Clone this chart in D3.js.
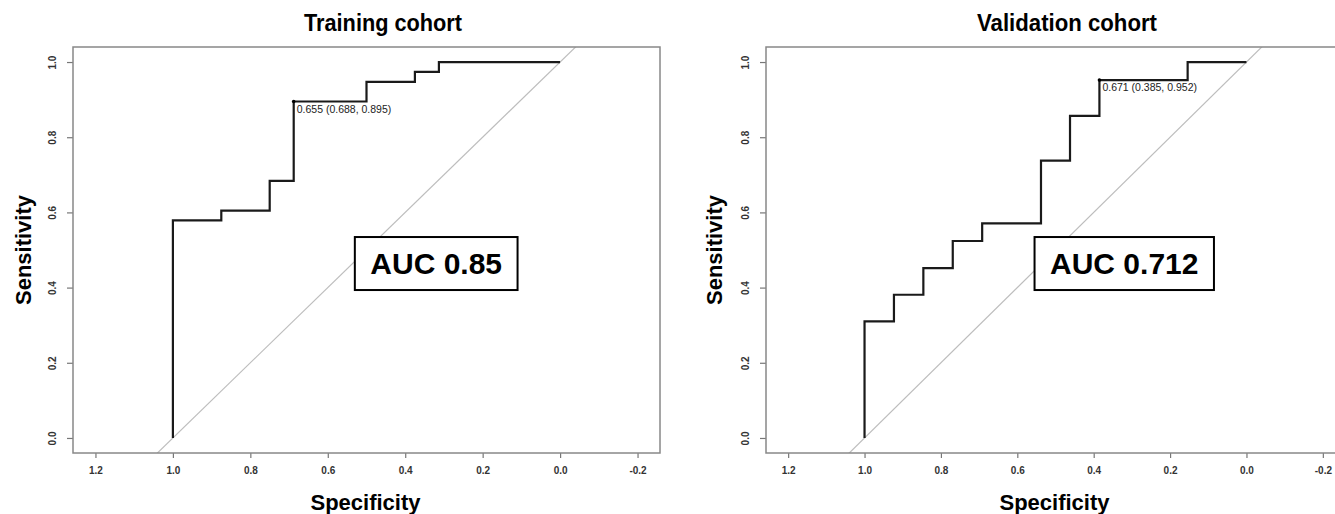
<!DOCTYPE html>
<html>
<head>
<meta charset="utf-8">
<script src="https://cdn.jsdelivr.net/npm/d3@7"></script>
<style>
  body { margin: 0; background: #fff; }
  svg { display: block; font-family: "Liberation Sans", Arial, sans-serif; }
</style>
</head>
<body>
<div id="chart"></div>
<script>
// ROC 折线的顶点 (specificity, sensitivity)，用 curveStepAfter 连成台阶
const trainSpec = [1, 1, 0.875, 0.75, 0.688, 0.5, 0.375, 0.313, 0];
const trainSens = [0, 0.579, 0.605, 0.684, 0.895, 0.947, 0.974, 1, 1];

const validSpec = [1, 1, 0.923, 0.846, 0.769, 0.692, 0.538, 0.462, 0.385, 0.154, 0];
const validSens = [0, 0.310, 0.381, 0.452, 0.524, 0.571, 0.738, 0.857, 0.952, 1, 1];

// 最佳截断点: 阈值, specificity, sensitivity
const trainBest = [0.655, 0.688, 0.895];
const validBest = [0.671, 0.385, 0.952];

const aucValues = ['0.85', '0.712'];
const titles = ['Training cohort', 'Validation cohort'];

const xTicks = [1.2, 1.0, 0.8, 0.6, 0.4, 0.2, 0.0, -0.2];
const yTicks = [0.0, 0.2, 0.4, 0.6, 0.8, 1.0];

const W = 1335, H = 514;
const plotTop = 47, plotBottom = 453;

var svg = d3.select('#chart').append('svg').attr('width', W).attr('height', H);

function fmt(d) { return d.toFixed(1); }

function drawPanel(opt) {
    var g = svg.append('g');
    var x = d3.scaleLinear().domain([1.258, -0.258]).range([opt.left, opt.right]);
    var y = d3.scaleLinear().domain([-0.04, 1.04]).range([plotBottom, plotTop]);

    var clipId = 'clip' + opt.idx;
    svg.append('clipPath').attr('id', clipId)
        .append('rect').attr('x', opt.left).attr('y', plotTop)
        .attr('width', opt.right - opt.left).attr('height', plotBottom - plotTop);

    //对角参考线
    g.append('line')
        .attr('clip-path', `url(#${clipId})`)
        .attr('x1', x(1.1)).attr('y1', y(-0.1))
        .attr('x2', x(-0.1)).attr('y2', y(1.1))
        .attr('stroke', '#bdbdbd').attr('stroke-width', 1.2);

    //x轴
    var xa = g.append('g').attr('transform', `translate(0,${plotBottom})`)
        .call(d3.axisBottom(x).tickValues(xTicks).tickFormat(fmt).tickSize(5).tickPadding(9));
    xa.select('.domain').remove();
    xa.selectAll('line').attr('stroke', '#777').attr('stroke-width', 1.2);
    xa.selectAll('text').attr('fill', '#333').style('font-size', '10px').style('font-weight', 'bold');

    //y轴，标签竖排
    var ya = g.append('g').attr('transform', `translate(${opt.left},0)`)
        .call(d3.axisLeft(y).tickValues(yTicks).tickFormat(fmt).tickSize(6));
    ya.select('.domain').remove();
    ya.selectAll('line').attr('stroke', '#777').attr('stroke-width', 1.2);
    ya.selectAll('text')
        .attr('x', null).attr('dy', null)
        .attr('transform', 'translate(-17,0) rotate(-90)')
        .attr('text-anchor', 'middle')
        .attr('fill', '#333').style('font-size', '10px').style('font-weight', 'bold');

    //外框
    g.append('rect')
        .attr('x', opt.left).attr('y', plotTop)
        .attr('width', opt.right - opt.left).attr('height', plotBottom - plotTop)
        .attr('fill', 'none').attr('stroke', '#888').attr('stroke-width', 1.5);

    //ROC曲线
    var pts = opt.spec.map((s, i) => [s, opt.sens[i]]);
    var line = d3.line().x(d => x(d[0])).y(d => y(d[1])).curve(d3.curveStepAfter);
    g.append('path').attr('d', line(pts))
        .attr('fill', 'none').attr('stroke', '#1a1a1a').attr('stroke-width', 2.2);

    //最佳截断点
    var bx = x(opt.best[1]), by = y(opt.best[2]);
    g.append('circle').attr('cx', bx).attr('cy', by).attr('r', 1.8).attr('fill', '#000');
    g.append('text').attr('x', bx + 3).attr('y', by + 11)
        .style('font-size', '10.5px').attr('fill', '#222')
        .text(`${opt.best[0].toFixed(3)} (${opt.best[1].toFixed(3)}, ${opt.best[2].toFixed(3)})`);

    //AUC 文本框
    var cx = x(0.32), cy = y(0.464);
    var box = g.append('rect');
    var t = g.append('text').attr('x', cx).attr('y', cy + 10.5)
        .attr('text-anchor', 'middle')
        .style('font-size', '30px').style('font-weight', 'bold')
        .text('AUC ' + opt.auc);
    var tw = t.node().getComputedTextLength();
    box.attr('x', cx - tw / 2 - 15.5).attr('y', cy - 26.5)
        .attr('width', tw + 31).attr('height', 53)
        .attr('fill', '#fff').attr('stroke', '#000').attr('stroke-width', 2);

    //标题和轴标题
    g.append('text').attr('x', opt.titleX).attr('y', 31)
        .attr('text-anchor', 'middle')
        .attr('textLength', opt.titleW).attr('lengthAdjust', 'spacingAndGlyphs')
        .style('font-size', '23px').style('font-weight', 'bold')
        .text(opt.title);
    g.append('text').attr('x', x(0.5) - 1).attr('y', 510)
        .attr('text-anchor', 'middle')
        .style('font-size', '22px').style('font-weight', 'bold')
        .text('Specificity');
    g.append('text')
        .attr('transform', `translate(${opt.left - opt.labelOff},${y(0.5)}) rotate(-90)`)
        .attr('text-anchor', 'middle')
        .style('font-size', '22px').style('font-weight', 'bold')
        .text('Sensitivity');
}

drawPanel({ idx: 0, left: 73, right: 660, spec: trainSpec, sens: trainSens,
    best: trainBest, auc: aucValues[0], title: titles[0], titleX: 383, titleW: 158, labelOff: 42 });
drawPanel({ idx: 1, left: 766, right: 1345, spec: validSpec, sens: validSens,
    best: validBest, auc: aucValues[1], title: titles[1], titleX: 1067, titleW: 180, labelOff: 44 });
</script>
</body>
</html>
